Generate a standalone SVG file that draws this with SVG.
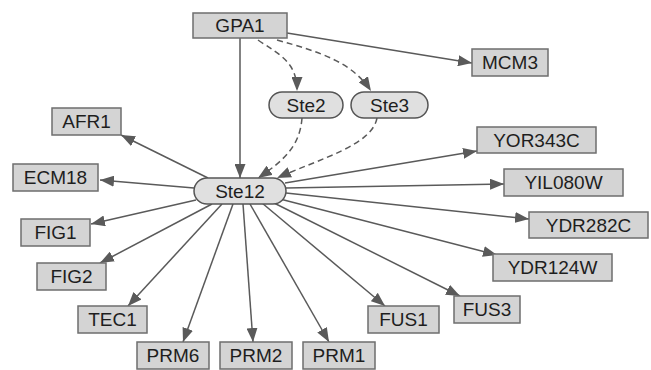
<svg xmlns="http://www.w3.org/2000/svg" width="651" height="370" viewBox="0 0 651 370">
<style>
.box{fill:#d4d4d4;stroke:#6e6e6e;stroke-width:1.5}
.pill{fill:#e0e0e0;stroke:#555;stroke-width:1.5}
.lbl{font-family:"Liberation Sans",Arial,sans-serif;font-size:19px;fill:#1e1e1e;text-anchor:middle;dominant-baseline:central}
.e{fill:none;stroke:#5a5a5a;stroke-width:1.5;marker-end:url(#ah)}
.d{stroke-dasharray:6,4}
</style>
<defs>
<marker id="ah" markerUnits="userSpaceOnUse" markerWidth="15" markerHeight="11" refX="14" refY="5.5" orient="auto">
<path d="M0,0 L14,5.5 L0,11 Z" fill="#5a5a5a"/>
</marker>
</defs>
<rect width="651" height="370" fill="#fff"/>
<g id="connectors">
<path class="e" d="M240,38 L240,178"/>
<path class="e" d="M287,33 L472,63"/>
<path class="e d" d="M258,40 C280,55 297,62 297,91"/>
<path class="e d" d="M277,40 C320,52 352,62 371,91"/>
<path class="e d" d="M302,118 C300,145 285,160 258,178"/>
<path class="e d" d="M377,118 C372,145 322,158 277,178"/>
<path class="e" d="M208,178 L121,135"/>
<path class="e" d="M194,188 L100,180"/>
<path class="e" d="M196,200 L91,224"/>
<path class="e" d="M212,204 L100,263"/>
<path class="e" d="M222,204 L128,306"/>
<path class="e" d="M233,204 L183,342"/>
<path class="e" d="M243,204 L253,342"/>
<path class="e" d="M250,204 L329,342"/>
<path class="e" d="M262,203 L385,306"/>
<path class="e" d="M272,202 L460,296"/>
<path class="e" d="M280,199 L497,255"/>
<path class="e" d="M286,193 L529,219"/>
<path class="e" d="M286,188 L504,184"/>
<path class="e" d="M285,183 L477,151"/>
</g>
<g id="GPA1"><rect class="box" x="193" y="13" width="94" height="25"/><text class="lbl" x="240" y="25.5">GPA1</text></g>
<g id="MCM3"><rect class="box" x="472" y="49" width="76" height="27"/><text class="lbl" x="510" y="62.5">MCM3</text></g>
<g id="Ste2"><rect class="pill" x="269" y="92" width="74" height="26" rx="13"/><text class="lbl" x="306" y="105">Ste2</text></g>
<g id="Ste3"><rect class="pill" x="351" y="92" width="77" height="26" rx="13"/><text class="lbl" x="389.5" y="105">Ste3</text></g>
<g id="Ste12"><rect class="pill" x="194" y="178" width="92" height="26" rx="13"/><text class="lbl" x="240" y="191">Ste12</text></g>
<g id="AFR1"><rect class="box" x="52" y="108" width="69" height="27"/><text class="lbl" x="86.5" y="121.5">AFR1</text></g>
<g id="ECM18"><rect class="box" x="13" y="164" width="85" height="27"/><text class="lbl" x="55.5" y="177.5">ECM18</text></g>
<g id="FIG1"><rect class="box" x="21" y="219" width="69" height="27"/><text class="lbl" x="55.5" y="232.5">FIG1</text></g>
<g id="FIG2"><rect class="box" x="37" y="263" width="69" height="27"/><text class="lbl" x="71.5" y="276.5">FIG2</text></g>
<g id="TEC1"><rect class="box" x="78" y="306" width="69" height="27"/><text class="lbl" x="112.5" y="319.5">TEC1</text></g>
<g id="PRM6"><rect class="box" x="137" y="342" width="72" height="27"/><text class="lbl" x="173" y="355.5">PRM6</text></g>
<g id="PRM2"><rect class="box" x="220" y="342" width="72" height="27"/><text class="lbl" x="256" y="355.5">PRM2</text></g>
<g id="PRM1"><rect class="box" x="303" y="342" width="72" height="27"/><text class="lbl" x="339" y="355.5">PRM1</text></g>
<g id="FUS1"><rect class="box" x="368" y="306" width="71" height="27"/><text class="lbl" x="403.5" y="319.5">FUS1</text></g>
<g id="FUS3"><rect class="box" x="454" y="296" width="66" height="27"/><text class="lbl" x="487" y="309.5">FUS3</text></g>
<g id="YOR343C"><rect class="box" x="477" y="127" width="119" height="26"/><text class="lbl" x="536.5" y="140">YOR343C</text></g>
<g id="YIL080W"><rect class="box" x="504" y="169" width="119" height="27"/><text class="lbl" x="563.5" y="182.5">YIL080W</text></g>
<g id="YDR282C"><rect class="box" x="529" y="212" width="119" height="26"/><text class="lbl" x="588.5" y="225">YDR282C</text></g>
<g id="YDR124W"><rect class="box" x="493" y="254" width="119" height="27"/><text class="lbl" x="552.5" y="267.5">YDR124W</text></g>
</svg>
